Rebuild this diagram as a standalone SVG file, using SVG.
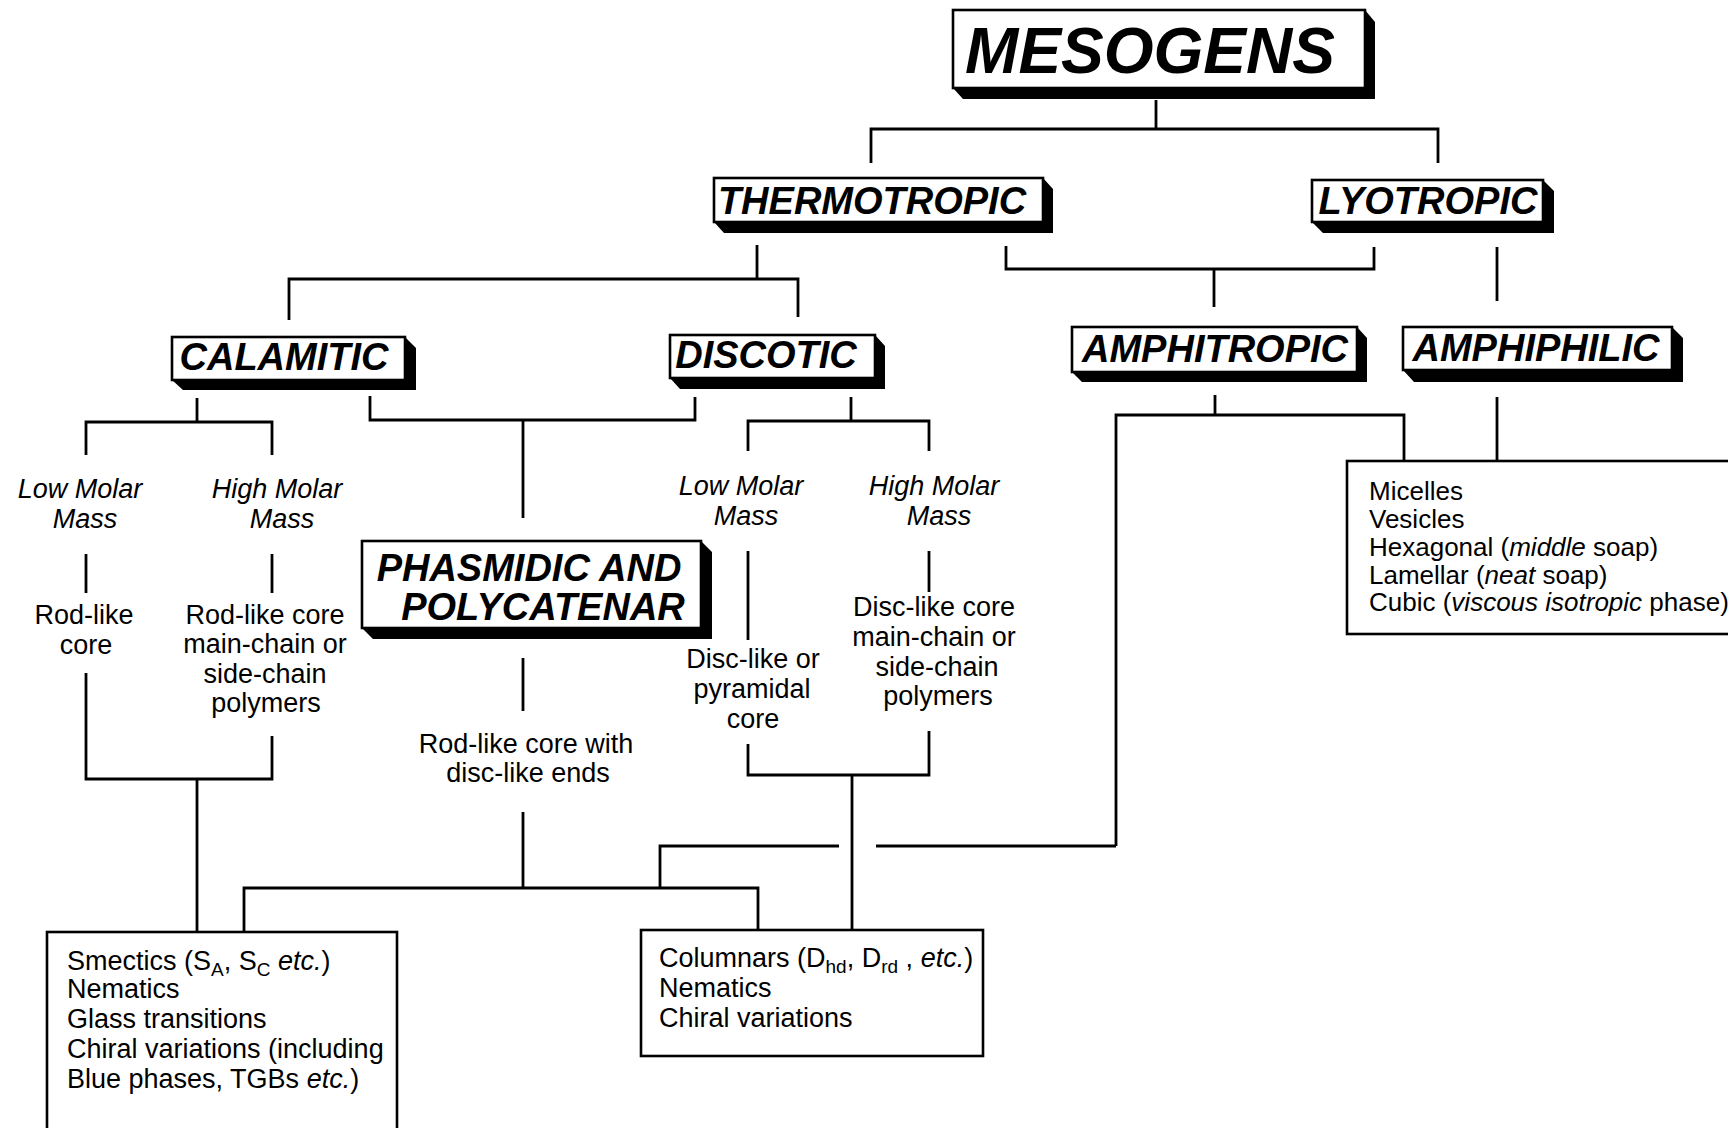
<svg xmlns="http://www.w3.org/2000/svg" width="1728" height="1128" viewBox="0 0 1728 1128">
<style>
.bg{fill:#fff}
.box{fill:#fff;stroke:#000;stroke-width:2.6}
.sh{fill:#000}
.big{font-family:"Liberation Sans",Arial,sans-serif;font-weight:bold;font-style:italic;font-size:38px;fill:#000;text-anchor:middle}
.it{font-family:"Liberation Sans",Arial,sans-serif;font-style:italic;font-size:27px;fill:#000;text-anchor:middle}
.tx{font-family:"Liberation Sans",Arial,sans-serif;font-size:27px;fill:#000;text-anchor:middle}
.ls{font-family:"Liberation Sans",Arial,sans-serif;font-size:26px;fill:#000}
.lb{font-family:"Liberation Sans",Arial,sans-serif;font-size:27px;fill:#000}
.conn path{fill:none;stroke:#000;stroke-width:2.8}
</style>
<rect class="bg" x="0" y="0" width="1728" height="1128"/>
<g class="conn" id="connectors">
<path d="M1156,100 V129"/>
<path d="M871,163 V129 H1438 V163"/>
<path d="M757,245 V279"/>
<path d="M289,320 V279 H798 V317"/>
<path d="M1006,246 V269 H1374 V247"/>
<path d="M1214,269 V307"/>
<path d="M1497,247 V301"/>
<path d="M197,398 V422"/>
<path d="M86,455 V422 H272 V455"/>
<path d="M370,396 V420 H695 V397"/>
<path d="M523,420 V518"/>
<path d="M851,397 V421"/>
<path d="M748,451 V421 H929 V451"/>
<path d="M86,554 V593"/>
<path d="M272,554 V593"/>
<path d="M86,673 V779 H272 V736"/>
<path d="M197,779 V932"/>
<path d="M523,658 V711"/>
<path d="M523,812 V888"/>
<path d="M748,551 V640"/>
<path d="M929,551 V592"/>
<path d="M748,744 V775 H929 V731"/>
<path d="M852,775 V931"/>
<path d="M1215,395 V415"/>
<path d="M1116,846 V415 H1404 V460"/>
<path d="M1497,397 V460"/>
<path d="M1116,846 H876"/>
<path d="M839,846 H660 V888"/>
<path d="M244,932 V888 H758 V931"/>
</g>
<g id="mesogens">
<polygon class="sh" points="1365,10 1375,22 1375,99 963,99 953,88 1365,88"/>
<rect class="box" x="953" y="10" width="412" height="78"/>
<text class="big" style="font-size:64px" x="1150" y="73">MESOGENS</text>
</g>
<g id="thermotropic">
<polygon class="sh" points="1043,178 1053,189 1053,233 724,233 714,222 1043,222"/>
<rect class="box" x="714" y="178" width="329" height="44"/>
<text class="big" x="872" y="214">THERMOTROPIC</text>
</g>
<g id="lyotropic">
<polygon class="sh" points="1543,180 1554,191 1554,233 1323,233 1312,222 1543,222"/>
<rect class="box" x="1312" y="180" width="231" height="42"/>
<text class="big" x="1428" y="214">LYOTROPIC</text>
</g>
<g id="calamitic">
<polygon class="sh" points="405,337 416,348 416,390 183,390 172,380 405,380"/>
<rect class="box" x="172" y="337" width="233" height="43"/>
<text class="big" x="284" y="370">CALAMITIC</text>
</g>
<g id="discotic">
<polygon class="sh" points="875,335 885,346 885,389 680,389 670,378 875,378"/>
<rect class="box" x="670" y="335" width="205" height="43"/>
<text class="big" x="766" y="368">DISCOTIC</text>
</g>
<g id="amphitropic">
<polygon class="sh" points="1357,327 1367,338 1367,382 1082,382 1072,372 1357,372"/>
<rect class="box" x="1072" y="327" width="285" height="45"/>
<text class="big" x="1215" y="362">AMPHITROPIC</text>
</g>
<g id="amphiphilic">
<polygon class="sh" points="1672,327 1683,338 1683,382 1414,382 1403,370 1672,370"/>
<rect class="box" x="1403" y="327" width="269" height="43"/>
<text class="big" x="1536" y="361">AMPHIPHILIC</text>
</g>
<g id="phasmidic">
<polygon class="sh" points="701,541 712,552 712,639 373,639 362,628 701,628"/>
<rect class="box" x="362" y="541" width="339" height="87"/>
<text class="big" x="529" y="581">PHASMIDIC AND</text>
<text class="big" x="543" y="620">POLYCATENAR</text>
</g>
<g id="cal-low">
<text class="it" x="80" y="498">Low Molar</text>
<text class="it" x="85" y="528">Mass</text>
</g>
<g id="cal-high">
<text class="it" x="277" y="498">High Molar</text>
<text class="it" x="282" y="528">Mass</text>
</g>
<g id="cal-rod">
<text class="tx" x="84" y="624">Rod-like</text>
<text class="tx" x="86" y="654">core</text>
</g>
<g id="cal-poly">
<text class="tx" x="265" y="624">Rod-like core</text>
<text class="tx" x="265" y="653">main-chain or</text>
<text class="tx" x="265" y="683">side-chain</text>
<text class="tx" x="266" y="712">polymers</text>
</g>
<g id="phas-desc">
<text class="tx" x="526" y="753">Rod-like core with</text>
<text class="tx" x="528" y="782">disc-like ends</text>
</g>
<g id="dis-low">
<text class="it" x="741" y="495">Low Molar</text>
<text class="it" x="746" y="525">Mass</text>
</g>
<g id="dis-high">
<text class="it" x="934" y="495">High Molar</text>
<text class="it" x="939" y="525">Mass</text>
</g>
<g id="dis-disc">
<text class="tx" x="753" y="668">Disc-like or</text>
<text class="tx" x="752" y="698">pyramidal</text>
<text class="tx" x="753" y="728">core</text>
</g>
<g id="dis-poly">
<text class="tx" x="934" y="616">Disc-like core</text>
<text class="tx" x="934" y="646">main-chain or</text>
<text class="tx" x="937" y="676">side-chain</text>
<text class="tx" x="938" y="705">polymers</text>
</g>
<g id="smectics">
<rect class="box" x="47" y="932" width="350" height="230"/>
<text class="lb" x="67" y="970">Smectics (S<tspan font-size="19" dy="6">A</tspan><tspan dy="-6">, S</tspan><tspan font-size="19" dy="6">C</tspan><tspan dy="-6"> </tspan><tspan font-style="italic">etc.</tspan>)</text>
<text class="lb" x="67" y="998">Nematics</text>
<text class="lb" x="67" y="1028">Glass transitions</text>
<text class="lb" x="67" y="1058">Chiral variations (including</text>
<text class="lb" x="67" y="1088">Blue phases, TGBs <tspan font-style="italic">etc.</tspan>)</text>
</g>
<g id="columnars">
<rect class="box" x="641" y="930" width="342" height="126"/>
<text class="lb" x="659" y="967">Columnars (D<tspan font-size="19" dy="6">hd</tspan><tspan dy="-6">, D</tspan><tspan font-size="19" dy="6">rd</tspan><tspan dy="-6"> , </tspan><tspan font-style="italic">etc.</tspan>)</text>
<text class="lb" x="659" y="997">Nematics</text>
<text class="lb" x="659" y="1027">Chiral variations</text>
</g>
<g id="lyophases">
<rect class="box" x="1347" y="461" width="400" height="173"/>
<text class="ls" x="1369" y="500">Micelles</text>
<text class="ls" x="1369" y="528">Vesicles</text>
<text class="ls" x="1369" y="556">Hexagonal (<tspan font-style="italic">middle</tspan> soap)</text>
<text class="ls" x="1369" y="584">Lamellar (<tspan font-style="italic">neat</tspan> soap)</text>
<text class="ls" x="1369" y="611">Cubic (<tspan font-style="italic">viscous isotropic</tspan> phase)</text>
</g>
</svg>
